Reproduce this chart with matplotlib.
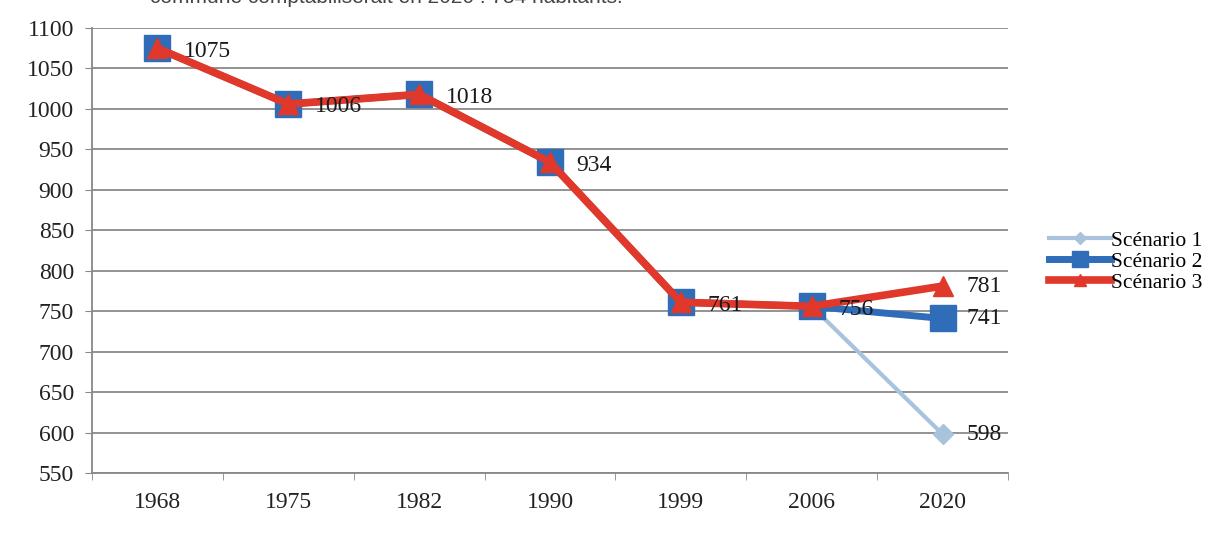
import matplotlib
matplotlib.use("Agg")
import matplotlib.pyplot as plt
import numpy as np

years = ["1968", "1975", "1982", "1990", "1999", "2006", "2020"]
scenario1 = [1075, 1006, 1018, 934, 761, 756, 598]
scenario2 = [1075, 1006, 1018, 934, 761, 756, 741]
scenario3 = [1075, 1006, 1018, 934, 761, 756, 781]
labels_main = [1075, 1006, 1018, 934, 761, 756]
yticks = list(range(550, 1101, 50))

plt.rcParams['font.family'] = ['Liberation Serif', 'DejaVu Serif']

fig = plt.figure(figsize=(12.18, 5.38), dpi=100)
ax = fig.add_axes([92/1218, 1 - 473/538, (1008-92)/1218, (473-28)/538])

x = np.arange(len(years)) + 0.5
c1, c2, c3 = "#a9c3dc", "#2f6db8", "#e0382b"

ax.plot(x, scenario1, color=c1, lw=3, marker="D", ms=10, mfc=c1, mec=c1, label="Scénario 1", zorder=3)
ax.plot(x, scenario2, color=c2, lw=5, marker="s", ms=19, mfc=c2, mec=c2, label="Scénario 2", zorder=4)
ax.plot(x, scenario3, color=c3, lw=5.5, marker="^", ms=15, mfc=c3, mec=c3, label="Scénario 3", zorder=5)

for xi, v in zip(x[:6], labels_main):
    ax.annotate(str(v), (xi, v), xytext=(19, -2), textcoords="offset points",
                fontsize=17, color="#1a1a1a", va="center", ha="left", zorder=6)
for series in (scenario3, scenario2, scenario1):
    ax.annotate(str(series[6]), (x[6], series[6]), xytext=(17, 0), textcoords="offset points",
                fontsize=17, color="#1a1a1a", va="center", ha="left")

ax.set_xlim(0, len(years))
ax.set_ylim(550, 1100)
ax.set_yticks(yticks)
ax.set_yticklabels([str(t) for t in yticks], fontsize=17, color="#222222")
ax.set_xticks(x)
ax.set_xticklabels(years, fontsize=17, color="#222222")
ax.set_xticks(np.arange(len(years) + 1), minor=True)
ax.tick_params(axis="x", which="major", length=0, pad=14)
ax.tick_params(axis="x", which="minor", length=5, color="#888888")
ax.tick_params(axis="y", length=5, color="#888888", pad=8)
ax.grid(axis="y", color="#8a8a8a", lw=1.3)
ax.set_axisbelow(True)
for s in ["top", "right"]:
    ax.spines[s].set_visible(False)
for s in ["left", "bottom"]:
    ax.spines[s].set_color("#888888")
    ax.spines[s].set_linewidth(1.3)

leg = fig.legend(loc="upper left", bbox_to_anchor=(1040/1218, 1 - 222/538), frameon=False,
                 fontsize=15.5, handlelength=2.9, handletextpad=0.0, labelspacing=0.05,
                 borderaxespad=0, markerscale=0.6)

fig.text(150/1218, 1.005, "commune comptabiliserait en 2020 : 754 habitants.", fontsize=15,
         family=['Liberation Sans', 'DejaVu Sans'], color="#444444", va="center", ha="left")

fig.savefig("out.png", dpi=100)
